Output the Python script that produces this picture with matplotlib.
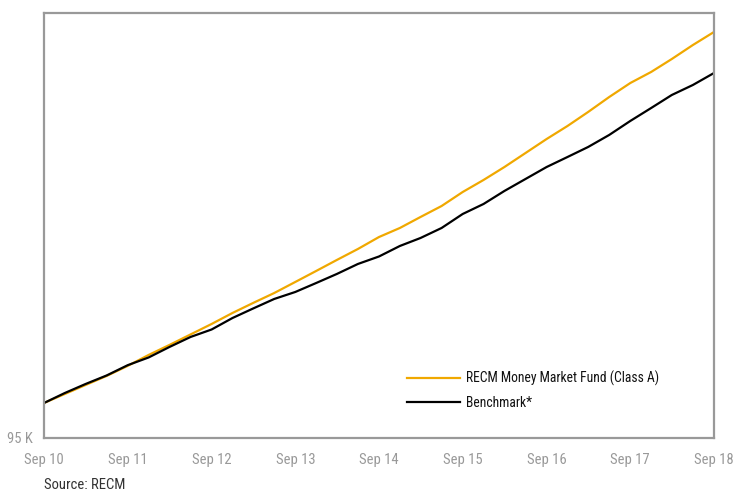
#!/usr/bin/env python3
# coding=UTF-8
"""Growth of 100K: RECM Money Market Fund vs benchmark."""
import matplotlib
matplotlib.use('Agg')
import matplotlib.pyplot as plt
import matplotlib.dates as mdates
import pandas as pd

# quarterly values (in thousands), Sep 2010 .. Sep 2018
dates = pd.date_range('2010-09-01', '2018-09-01', freq='3MS')
fund = [100.00, 101.29, 102.57, 103.86, 105.30, 106.86, 108.29, 109.79,
        111.29, 112.86, 114.29, 115.71, 117.29, 118.86, 120.43, 122.00,
        123.71, 125.00, 126.57, 128.14, 130.14, 131.86, 133.71, 135.71,
        137.71, 139.57, 141.57, 143.71, 145.71, 147.29, 149.14, 151.14,
        153.00]
bench = [100.00, 101.43, 102.71, 103.93, 105.40, 106.50, 108.00, 109.43,
         110.50, 112.14, 113.50, 114.86, 115.86, 117.14, 118.43, 119.86,
         120.93, 122.43, 123.57, 125.00, 127.00, 128.43, 130.29, 132.00,
         133.71, 135.14, 136.57, 138.29, 140.29, 142.14, 144.00, 145.43,
         147.14]
series_names = ['RECM Money Market Fund (Class A)', 'Benchmark*']
tick_years = list(range(2010, 2019))

FONT = ['Liberation Sans Narrow', 'Roboto Condensed', 'DejaVu Sans']
GREY = '#999999'

plt.rcParams['font.family'] = FONT

fig = plt.figure(figsize=(7.35, 4.94), dpi=100)
ax = fig.add_axes([0.0599, 0.1134, 0.9115, 0.8603])

ax.plot(dates, [v * 1000 for v in fund], color='#F0A800', lw=1.6,
        label=series_names[0])
ax.plot(dates, [v * 1000 for v in bench], color='#000000', lw=1.6,
        label=series_names[1])

ax.set_xlim(dates[0], dates[-1])
ax.set_ylim(95000, 155714)

ax.set_xticks([pd.Timestamp(f'{y}-09-01') for y in tick_years])
ax.xaxis.set_major_formatter(mdates.DateFormatter('%b %y'))
ax.set_yticks([95000])
ax.set_yticklabels(['95 K'])
ax.tick_params(axis='both', length=0, colors=GREY, labelsize=10.5)
ax.tick_params(axis='x', pad=10.5)
ax.tick_params(axis='y', pad=8)

for sp in ax.spines.values():
    sp.set_color(GREY)
    sp.set_linewidth(1.6)

leg = ax.legend(loc='upper left', bbox_to_anchor=(0.524, 0.188),
                frameon=False, handlelength=3.9, handletextpad=0.4,
                labelspacing=0.75, fontsize=9.8)
for t in leg.get_texts():
    t.set_color('#111111')

# source note sits right at the bottom edge
fig.text(0.0599, 0.004, 'Source: RECM', color='#333333', fontsize=10.5,
         va='bottom', ha='left')

fig.savefig('out.png', dpi=100)
